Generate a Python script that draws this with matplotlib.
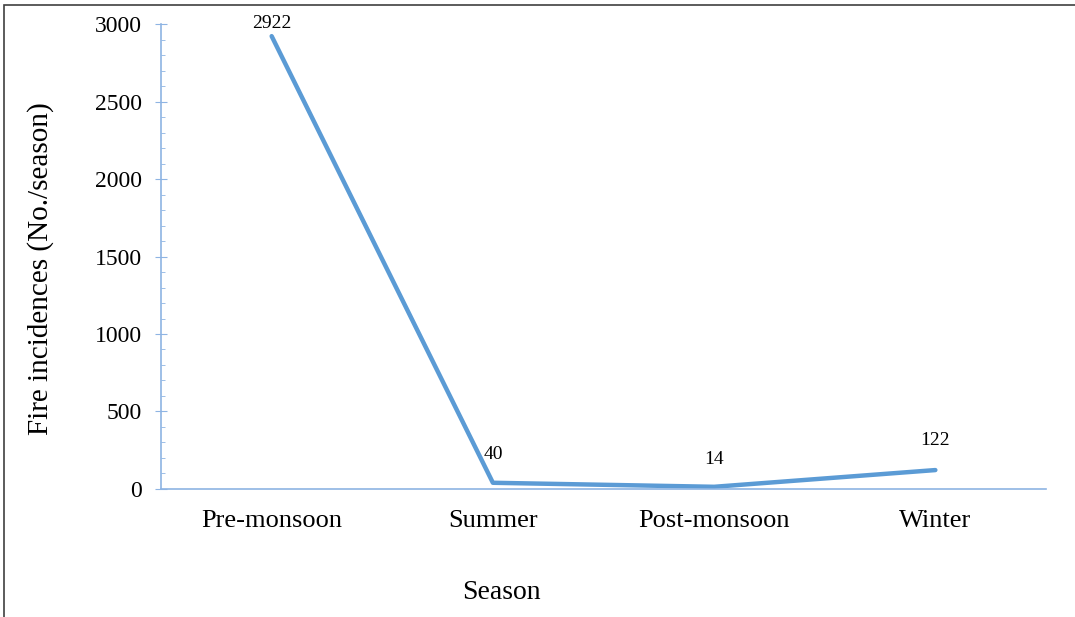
import matplotlib.pyplot as plt
from matplotlib.ticker import MultipleLocator
from matplotlib.patches import Rectangle

plt.rc('font', family='Liberation Serif')

seasons = ['Pre-monsoon', 'Summer', 'Post-monsoon', 'Winter']
fires = [2922, 40, 14, 122]
# label offsets in points (Excel pushed the top one down)
lab_off = [9, 20, 20, 21]

blue = '#5B9BD5'
axis_col = '#8EB4E3'

fig = plt.figure(figsize=(10.75, 6.17), dpi=100)
ax = fig.add_axes([0.1498, 0.2075, 0.8232, 0.7535])

x = range(len(seasons))
ax.plot(x, fires, '-', color=blue, lw=3.2, solid_capstyle='round')
for i, v in enumerate(fires):
    ax.annotate(str(v), (i, v), xytext=(0, lab_off[i]), textcoords='offset points',
                ha='center', va='center', fontsize=14)

ax.set_xlim(-0.5, 3.5)
ax.set_ylim(0, 3000)
ax.set_xticks(list(x))
ax.set_xticklabels(seasons, fontsize=19)
ax.yaxis.set_major_locator(MultipleLocator(500))
ax.yaxis.set_minor_locator(MultipleLocator(100))
ax.tick_params(axis='y', which='major', direction='inout', length=9, color=axis_col,
               labelsize=17, pad=9)
ax.tick_params(axis='y', which='minor', direction='in', length=3, color=axis_col)
ax.tick_params(axis='x', length=0, pad=15)

for s in ['top', 'right']:
    ax.spines[s].set_visible(False)
ax.spines['left'].set_color(axis_col)
ax.spines['bottom'].set_color(axis_col)
ax.spines['left'].set_linewidth(1.2)
ax.spines['bottom'].set_linewidth(1.2)

ax.set_xlabel('Season', fontsize=20)
ax.set_ylabel('Fire incidences (No./season)', fontsize=21)
ax.xaxis.set_label_coords(0.385, -0.196)
ax.yaxis.set_label_coords(-0.121, 0.473)

# outer frame like the pasted Excel chart
fig.patches.append(Rectangle((0.004, -0.01), 1.2, 1.002, transform=fig.transFigure,
                             fill=False, ec='#404040', lw=1.2))

plt.savefig('out.png', dpi=100)
